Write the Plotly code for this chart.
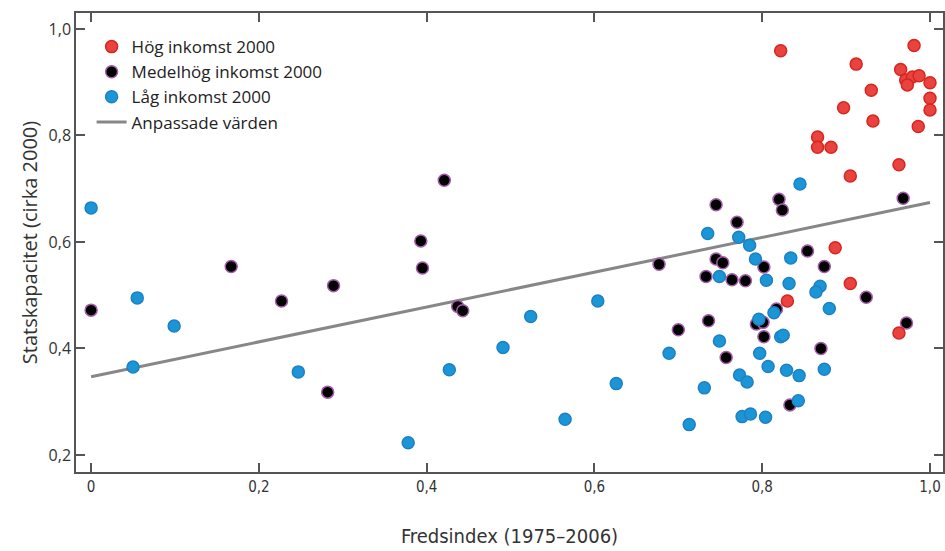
import plotly.graph_objects as go

# ---- data ----
hog_x = [0.822, 0.981, 0.912, 0.965, 0.971, 0.979, 0.987, 0.973, 1.000, 0.930, 1.000, 1.000,
         0.897, 0.932, 0.986, 0.866, 0.866, 0.882, 0.963, 0.905, 0.887, 0.905, 0.830, 0.963]
hog_y = [0.959, 0.969, 0.934, 0.924, 0.904, 0.910, 0.912, 0.895, 0.899, 0.885, 0.870, 0.848,
         0.852, 0.827, 0.817, 0.797, 0.778, 0.778, 0.745, 0.724, 0.589, 0.522, 0.489, 0.429]

med_x = [0.000, 0.167, 0.227, 0.289, 0.282, 0.421, 0.393, 0.395, 0.437, 0.443, 0.677, 0.745,
         0.820, 0.824, 0.770, 0.745, 0.753, 0.802, 0.733, 0.764, 0.780, 0.854, 0.874, 0.968,
         0.924, 0.972, 0.817, 0.793, 0.801, 0.700, 0.736, 0.802, 0.757, 0.870, 0.833]
med_y = [0.472, 0.554, 0.489, 0.518, 0.318, 0.716, 0.602, 0.551, 0.479, 0.471, 0.558, 0.670,
         0.680, 0.660, 0.637, 0.568, 0.561, 0.553, 0.535, 0.529, 0.527, 0.583, 0.554, 0.682,
         0.496, 0.448, 0.474, 0.446, 0.449, 0.435, 0.452, 0.422, 0.383, 0.400, 0.294]

lag_x = [0.000, 0.055, 0.099, 0.050, 0.247, 0.378, 0.427, 0.491, 0.524, 0.565, 0.604, 0.626,
         0.689, 0.713, 0.731, 0.735, 0.749, 0.749, 0.772, 0.785, 0.792, 0.805, 0.832, 0.834,
         0.845, 0.869, 0.864, 0.880, 0.814, 0.796, 0.822, 0.825, 0.797, 0.807, 0.829, 0.844,
         0.874, 0.773, 0.782, 0.843, 0.776, 0.786, 0.804]
lag_y = [0.664, 0.495, 0.442, 0.365, 0.356, 0.223, 0.360, 0.402, 0.460, 0.267, 0.489, 0.334,
         0.391, 0.257, 0.326, 0.616, 0.535, 0.414, 0.609, 0.594, 0.568, 0.528, 0.522, 0.570,
         0.709, 0.517, 0.506, 0.475, 0.467, 0.455, 0.422, 0.425, 0.391, 0.366, 0.359, 0.349,
         0.361, 0.350, 0.337, 0.302, 0.272, 0.277, 0.271]

fit_x = [0.0, 1.0]
fit_y = [0.347, 0.674]

x_ticks = [0, 0.2, 0.4, 0.6, 0.8, 1.0]
x_ticklabels = ["0", "0,2", "0,4", "0,6", "0,8", "1,0"]
y_ticks = [0.2, 0.4, 0.6, 0.8, 1.0]
y_ticklabels = ["0,2", "0,4", "0,6", "0,8", "1,0"]

names = ["Hög inkomst 2000", "Medelhög inkomst 2000", "Låg inkomst 2000", "Anpassade värden"]

# ---- figure ----
fig = go.Figure()

fig.add_trace(go.Scatter(x=fit_x, y=fit_y, mode="lines", name=names[3],
                         line=dict(color="#878787", width=3), legendrank=4))
fig.add_trace(go.Scatter(x=med_x, y=med_y, mode="markers", name=names[1],
                         marker=dict(color="#000000", size=12,
                                     line=dict(color="#a45cab", width=1.5)),
                         legendrank=2))
fig.add_trace(go.Scatter(x=lag_x, y=lag_y, mode="markers", name=names[2],
                         marker=dict(color="#1a96d7", size=12,
                                     line=dict(color="#1f80c4", width=1.5)),
                         legendrank=3))
fig.add_trace(go.Scatter(x=hog_x, y=hog_y, mode="markers", name=names[0],
                         marker=dict(color="#e8433e", size=12,
                                     line=dict(color="#d8261f", width=1.5)),
                         legendrank=1))

axis_common = dict(
    showline=True, linecolor="#555555", linewidth=1.5, mirror="ticks",
    ticks="inside", ticklen=9, tickwidth=1.5, tickcolor="#555555",
    showgrid=False, zeroline=False, automargin=False,
)

fig.update_layout(
    width=945, height=551,
    margin=dict(l=76, r=2, t=13, b=79),
    paper_bgcolor="white", plot_bgcolor="white",
    font=dict(family="Open Sans, DejaVu Sans", color="#222222"),
    showlegend=True,
    legend=dict(x=0.018, y=0.965, xanchor="left", yanchor="top",
                bgcolor="rgba(0,0,0,0)", font=dict(size=17, color="#222222"),
                itemwidth=30, tracegroupgap=0),
    xaxis=dict(range=[-0.018, 1.0155], tickvals=x_ticks, ticktext=x_ticklabels,
               tickfont=dict(family="DejaVu Sans Condensed, Liberation Sans Narrow, Open Sans",
                             size=15, color="#333333"),
               title=dict(text="Fredsindex (1975–2006)", standoff=34,
                          font=dict(family="DejaVu Sans Condensed, Liberation Sans Narrow, Open Sans",
                                    size=20, color="#333333")),
               **axis_common),
    yaxis=dict(range=[0.168, 1.030], tickvals=y_ticks, ticktext=y_ticklabels,
               tickfont=dict(family="Open Sans", size=16, color="#333333"),
               title=dict(text="Statskapacitet (cirka 2000)", standoff=6,
                          font=dict(family="Open Sans", size=20, color="#333333")),
               **axis_common),
)

fig.write_html("out.html", config={"displayModeBar": False},
               post_script="document.body.style.margin='0';document.body.style.overflow='hidden';")
